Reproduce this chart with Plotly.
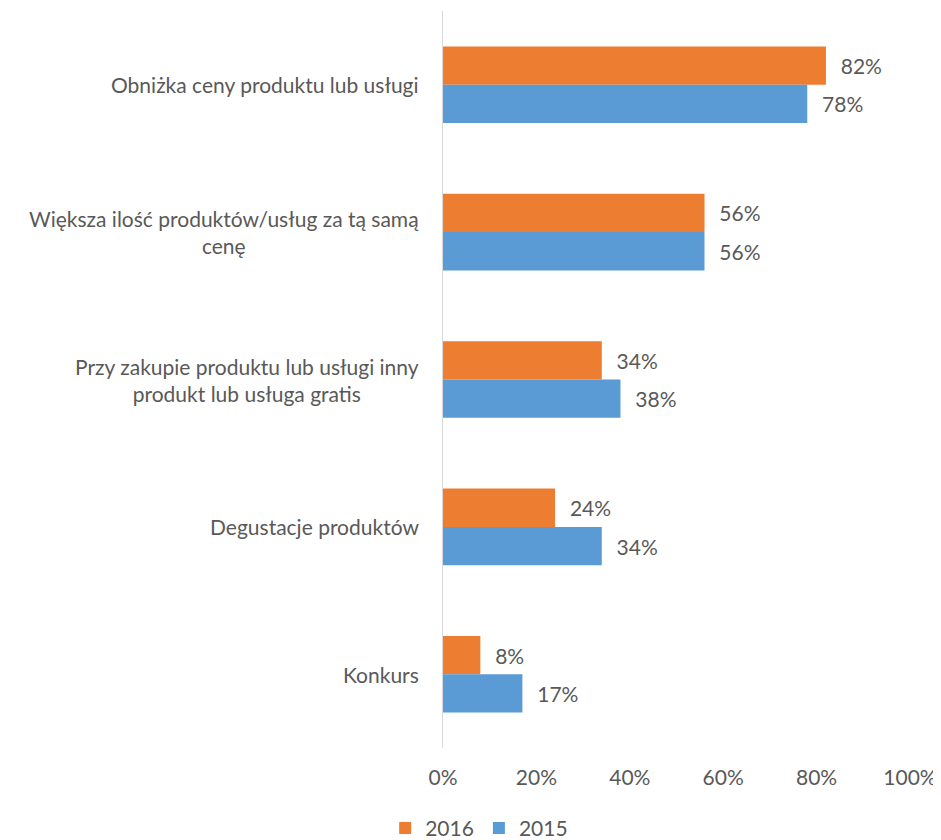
import plotly.graph_objects as go

categories = [
    "Obniżka ceny produktu lub usługi",
    "Większa ilość produktów/usług za tą samą<br>cenę",
    "Przy zakupie produktu lub usługi inny<br>produkt lub usługa gratis",
    "Degustacje produktów",
    "Konkurs",
]
values_2016 = [82, 56, 34, 24, 8]
values_2015 = [78, 56, 38, 34, 17]
x_ticks = [0, 20, 40, 60, 80, 100]
x_tick_labels = ["0%", "20%", "40%", "60%", "80%", "100%"]

FONT = "Lato"
GRAY = "#595959"
FS = 21

fig = go.Figure()
fig.add_trace(go.Bar(
    name="2016", y=categories, x=values_2016, orientation="h",
    marker=dict(color="#ED7D31", line=dict(width=0)),
    texttemplate="\u2002\u200a%{x}%", textposition="outside",
    textfont=dict(family=FONT, size=FS, color=GRAY), cliponaxis=False,
))
fig.add_trace(go.Bar(
    name="2015", y=categories, x=values_2015, orientation="h",
    marker=dict(color="#5B9BD5", line=dict(width=0)),
    texttemplate="\u2002\u200a%{x}%", textposition="outside",
    textfont=dict(family=FONT, size=FS, color=GRAY), cliponaxis=False,
))

for c in categories:
    fig.add_annotation(
        x=0, xref="paper", y=c, yref="y", text=c, showarrow=False,
        xanchor="right", xshift=-22, align="center",
        font=dict(family=FONT, size=FS, color=GRAY),
    )

fig.update_layout(
    width=933, height=832,
    margin=dict(l=435, r=31, t=3, b=92),
    paper_bgcolor="white", plot_bgcolor="white",
    barmode="group", bargap=0.48, bargroupgap=0,
    font=dict(family=FONT, size=FS, color=GRAY),
    legend=dict(
        orientation="h", xref="container", x=0.505, xanchor="center",
        yref="container", y=0.014, yanchor="middle",
        font=dict(family=FONT, size=FS, color=GRAY),
        itemwidth=30, tracegroupgap=0,
    ),
    showlegend=True,
)
fig.update_xaxes(
    range=[0, 100], tickvals=x_ticks, ticktext=x_tick_labels,
    showgrid=False, zeroline=False, showline=False,
    ticks="", ticklabelstandoff=15,
    tickfont=dict(family=FONT, size=FS, color=GRAY),
)
fig.update_yaxes(
    categoryorder="array", categoryarray=categories, autorange="reversed",
    showticklabels=False, showgrid=False, zeroline=False,
    showline=True, linecolor="#D9D9D9", linewidth=1, ticks="",
)

fig.write_html("out.html")
